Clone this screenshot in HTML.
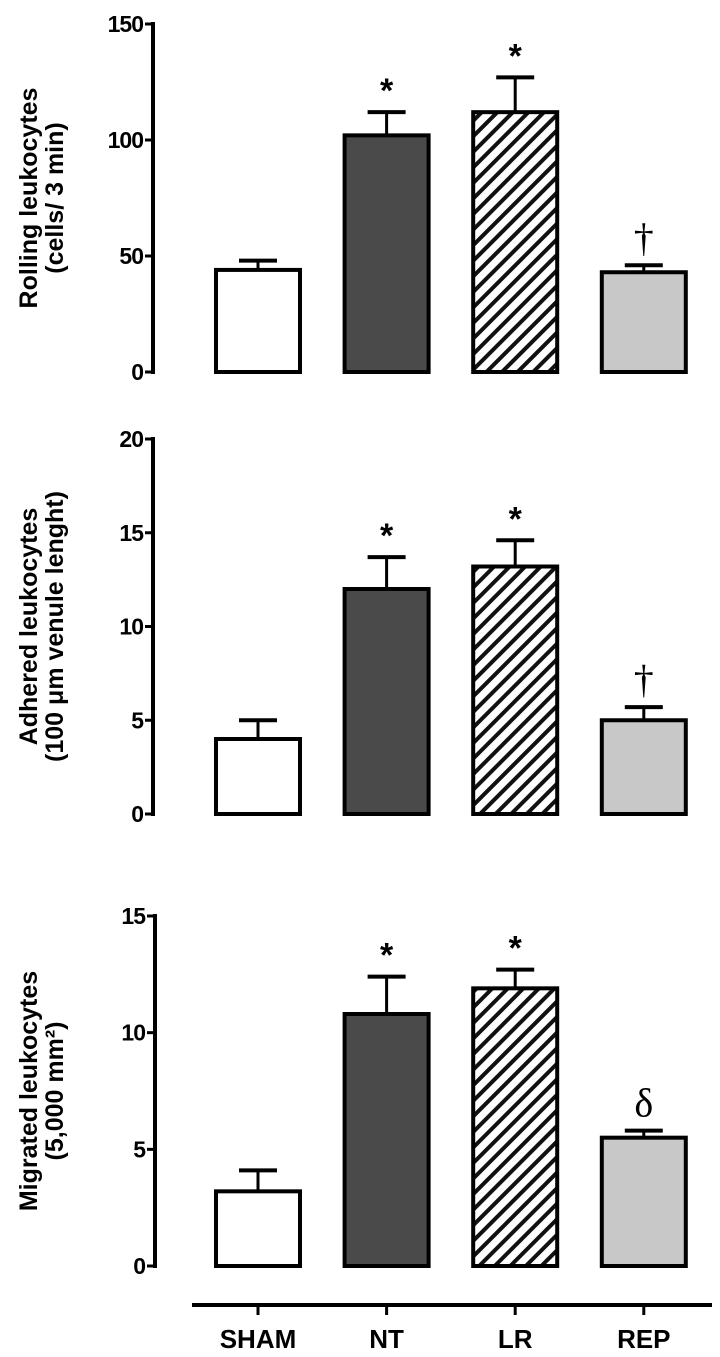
<!DOCTYPE html>
<html><head><meta charset="utf-8"><style>
body{margin:0;background:#fff}
svg text{font-family:"Liberation Sans",Arial,sans-serif;fill:#000}
</style></head><body>
<svg id="chart" width="720" height="1352" viewBox="0 0 720 1352">
<defs><pattern id="hatch" patternUnits="userSpaceOnUse" width="11" height="11" patternTransform="rotate(45)"><rect width="11" height="11" fill="#fff"/><rect x="0" y="0" width="4" height="11" fill="#111"/></pattern></defs>
</svg>
<script>
const categories=["SHAM","NT","LR","REP"];
const rollingMeans=[44,102,112,43];
const rollingErr=[48,112,127,46];
const adheredMeans=[4,12,13.2,5];
const adheredErr=[5,13.7,14.6,5.7];
const migratedMeans=[3.2,10.8,11.9,5.5];
const migratedErr=[4.1,12.4,12.7,5.8];
const rollingTicks=[0,50,100,150];
const adheredTicks=[0,5,10,15,20];
const migratedTicks=[0,5,10,15];
const rollingMarks=["","*","*","†"];
const adheredMarks=["","*","*","†"];
const migratedMarks=["","*","*","δ"];
const svg=document.getElementById('chart');
const NS="http://www.w3.org/2000/svg";
const fills=["#fff","#4a4a4a","url(#hatch)","#c8c8c8"];
function mk(t,a,name){const e=document.createElementNS(NS,t);for(const k in a)e.setAttribute(k,a[k]);


svg.appendChild(e);return e;}
function xc(i){return 258+i*128.6;}
const panels=[
{y0:372,y1:24,max:150,ax:153,means:rollingMeans,err:rollingErr,ticks:rollingTicks,marks:rollingMarks,t1:"Rolling leukocytes",t2:"(cells/ 3 min)",id:"rolling"},
{y0:814,y1:439,max:20,ax:153,means:adheredMeans,err:adheredErr,ticks:adheredTicks,marks:adheredMarks,t1:"Adhered leukocytes",t2:"(100 μm venule lenght)",id:"adhered"},
{y0:1266,y1:916,max:15,ax:155,means:migratedMeans,err:migratedErr,ticks:migratedTicks,marks:migratedMarks,t1:"Migrated leukocytes",t2:"(5,000 mm²)",id:"migrated"}];
panels.forEach(p=>{
 const y=v=>p.y0-(p.y0-p.y1)*v/p.max;
 mk('line',{x1:p.ax,x2:p.ax,y1:p.y1-2,y2:p.y0+2,stroke:'#000','stroke-width':4},p.id+'-y-axis');
 p.ticks.forEach(t=>{mk('line',{x1:p.ax-8,x2:p.ax,y1:y(t),y2:y(t),stroke:'#000','stroke-width':3},p.id+'-tick');
  const tx=mk('text',{x:p.ax-10,y:y(t)+8,'text-anchor':'end',style:'font-size:23px;font-weight:bold;letter-spacing:-1px'},p.id+'-tick-label');tx.textContent=t;});
 const cy=(p.y0+p.y1)/2;
 const a=mk('text',{x:0,y:0,transform:`translate(37,${cy}) rotate(-90)`,'text-anchor':'middle',style:'font-size:25px;font-weight:bold'},p.id+'-y-axis-title');a.textContent=p.t1;
 const b=mk('text',{x:0,y:0,transform:`translate(63,${cy}) rotate(-90)`,'text-anchor':'middle',style:'font-size:25px;font-weight:bold'},p.id+'-y-axis-subtitle');b.textContent=p.t2;
 p.means.forEach((m,i)=>{const x=xc(i);
  mk('line',{x1:x,x2:x,y1:y(m),y2:y(p.err[i]),stroke:'#000','stroke-width':3},p.id+'-error-bar');
  mk('line',{x1:x-19,x2:x+19,y1:y(p.err[i]),y2:y(p.err[i]),stroke:'#000','stroke-width':4},p.id+'-error-cap');
  mk('rect',{x:x-42,y:y(m),width:84,height:p.y0-y(m),fill:fills[i],stroke:'#000','stroke-width':4},p.id+'-bar-'+categories[i].toLowerCase());
  if(p.marks[i]){const s=p.marks[i];const big=s!=="*";
   const t=mk('text',{x:x,y:y(p.err[i])-(big?14:10),'text-anchor':'middle',style:big?'font-size:40px;font-family:Liberation Serif,serif;font-weight:normal':'font-size:34px;font-weight:bold'},p.id+'-significance-mark');t.textContent=s;}
 });
});
mk('line',{x1:192,x2:712,y1:1305,y2:1305,stroke:'#000','stroke-width':4},'x-axis');
categories.forEach((c,i)=>{mk('line',{x1:xc(i),x2:xc(i),y1:1305,y2:1315,stroke:'#000','stroke-width':3},'x-tick');
 const t=mk('text',{x:xc(i),y:1348,'text-anchor':'middle',style:'font-size:26px;font-weight:bold'},'x-label-'+c.toLowerCase());t.textContent=c;});
</script>
</body></html>
